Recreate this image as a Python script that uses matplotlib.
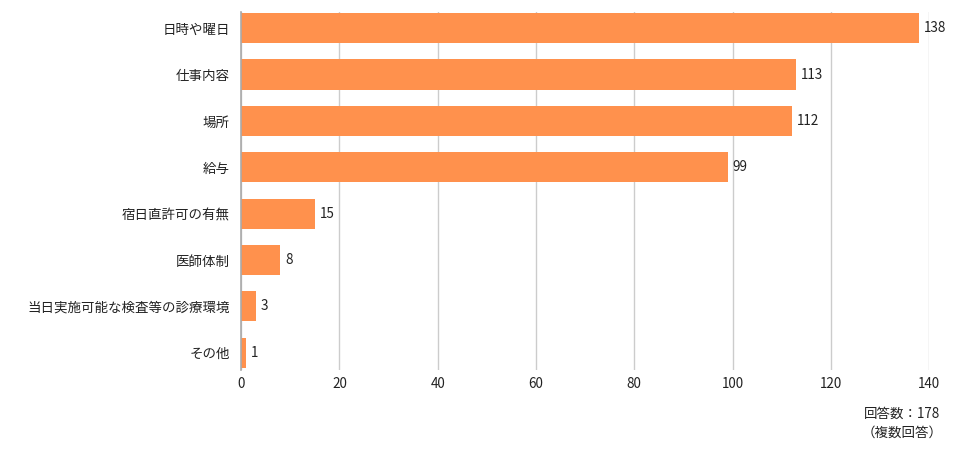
import matplotlib.pyplot as plt

plt.rcParams['font.family'] = ['Noto Sans CJK JP', 'DejaVu Sans']

# 項目と回答数
labels = ["日時や曜日", "仕事内容", "場所", "給与", "宿日直許可の有無",
          "医師体制", "当日実施可能な検査等の診療環境", "その他"]
values = [138, 113, 112, 99, 15, 8, 3, 1]
xticks = [0, 20, 40, 60, 80, 100, 120, 140]

fig = plt.figure(figsize=(9.76, 4.59), dpi=100)
ax = fig.add_axes([0.247, 0.194, 0.705, 0.780])

pos = list(range(len(labels)))
ax.barh(pos, values, height=0.65, color="#FF914D", zorder=3)
for p, v in zip(pos, values):
    ax.text(v + 1, p, str(v), va="center", ha="left", fontsize=9.7, color="#222222")

ax.set_yticks(pos)
ax.set_yticklabels(labels, fontsize=9.7, color="#222222")
ax.set_ylim(len(labels) - 1 + 0.37, -0.35)
ax.set_xlim(0, 140)
ax.set_xticks(xticks)
ax.set_xticklabels([str(t) for t in xticks], fontsize=9.7, color="#222222")
ax.grid(axis="x", color="#cccccc", linewidth=1, zorder=0)
ax.tick_params(axis="y", length=0, pad=8)
ax.tick_params(axis="x", length=0, pad=5)
for s in ["top", "right", "bottom"]:
    ax.spines[s].set_visible(False)
ax.spines["left"].set_color("#aaaaaa")
ax.spines["left"].set_linewidth(1.2)
ax.spines["left"].set_zorder(4)

fig.text(0.924, 0.078, "回答数：178\n（複数回答）", ha="center", va="center",
         fontsize=9.7, color="#222222", linespacing=1.5)

fig.savefig("out.png", dpi=100)
